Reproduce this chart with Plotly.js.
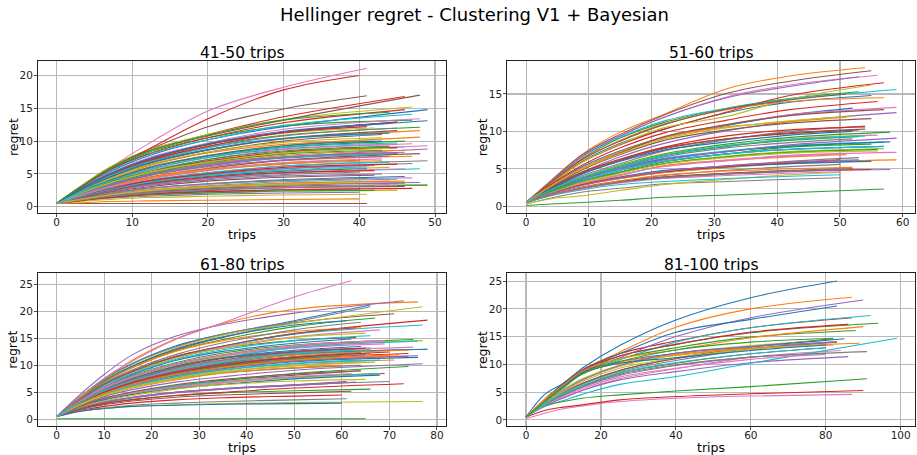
<!DOCTYPE html>
<html>
<head>
<meta charset="utf-8">
<script src="https://cdn.plot.ly/plotly-3.0.1.min.js"></script>
<style>html,body{margin:0;padding:0;background:#fff}</style>
</head>
<body>
<div id="chart" style="width:917px;height:455px"></div>
<script>
// Each row: [last trip, then the regret at each checkpoint, then the regret at the last trip].
// Rows follow the colour cycle: blue, orange, green, red, purple, brown, pink, gray, olive, cyan.
const panel1Checkpoints = [0, 3, 7, 12, 20, 30];
const panel1Rows = [
[49,.5,2.8,5.3,7.7,10.2,12.2,14.8],[48,.5,2.4,4.5,6.6,8.7,10.3,11.6],[47,.5,2.8,5.6,8.2,10.5,12.3,13.2],[46,.5,2.9,5.8,8.5,11.0,13.7,16.8],[45,.5,2.0,3.8,5.6,7.5,8.8,9.5],[41,.5,2.9,6.0,8.6,12.2,14.9,16.9],[41,.5,2.8,5.9,9.5,14.6,18.2,21.1],[44,.5,1.9,3.5,5.1,6.6,7.6,8.2],[47,.5,3.0,6.0,8.6,11.0,13.3,15.2],[47,.5,2.7,5.4,7.9,10.2,12.4,14.1],
[49,.5,2.6,5.0,7.3,9.5,11.3,13.1],[48,.5,2.2,4.1,6.0,7.8,9.3,10.6],[48,.5,2.5,4.8,6.9,9.2,10.9,12.1],[40,.5,2.8,5.8,8.7,13.4,17.8,20.0],[49,.5,1.8,3.2,4.7,6.2,7.5,8.8],[48,.5,2.9,5.8,8.4,10.8,13.2,17.0],[48,.5,2.6,5.1,7.4,9.7,11.8,13.4],[45,.5,2.4,4.7,6.8,9.0,10.8,12.0],[42,.5,2.4,4.9,7.1,9.5,11.2,12.0],[46,.5,1.9,3.5,5.2,6.9,8.3,9.1],
[45,.5,2.5,5.0,7.2,9.5,11.3,12.9],[42,.5,2.3,4.3,6.2,8.2,9.5,10.2],[46,.5,2.1,3.9,5.8,7.7,9.1,10.0],[46,.5,2.8,5.6,8.0,10.5,12.8,14.8],[45,.5,1.9,3.5,5.1,6.9,8.3,9.0],[45,.5,2.3,4.5,6.5,8.6,10.4,11.6],[47,.5,2.0,3.7,5.5,7.2,8.7,9.6],[45,.5,1.8,3.3,4.8,6.3,7.4,8.1],[44,.5,1.5,2.6,3.6,4.7,5.5,6.0],[48,.5,1.4,2.4,3.3,4.3,5.1,5.8],
[43,.5,2.2,4.0,5.9,7.8,9.3,10.0],[46,.5,1.8,3.3,4.9,6.5,7.8,8.6],[40,.5,1.7,2.9,4.2,5.6,6.6,7.1],[45,.5,2.5,4.9,7.0,9.2,11.3,12.9],[48,.5,1.1,1.8,2.4,2.9,3.4,3.7],[43,.5,2.3,4.4,6.3,8.3,10.0,11.0],[49,.5,1.9,3.5,5.1,6.7,8.1,9.3],[49,.5,1.6,2.8,3.9,5.1,6.2,7.0],[49,.5,1.0,1.6,2.1,2.6,3.0,3.3],[45,.5,1.2,1.9,2.5,3.2,3.8,4.2],
[41,.5,1.5,2.6,3.6,4.6,5.4,5.8],[47,.5,1.8,3.1,4.5,5.9,7.0,7.7],[49,.5,1.0,1.6,2.2,2.7,3.1,3.3],[41,.5,2.6,4.9,7.1,9.5,11.3,12.2],[40,.5,.9,1.3,1.6,1.9,2.1,2.2],[48,.5,1.7,3.0,4.4,5.8,7.1,8.1],[46,.5,1.4,2.4,3.4,4.4,5.2,5.8],[47,.5,1.6,2.7,3.8,4.9,5.8,6.6],[45,.5,.9,1.4,1.8,2.1,2.4,2.5],[44,.5,1.6,2.8,4.0,5.2,6.2,6.8],
[46,.5,1.2,2.0,2.8,3.5,4.1,4.6],[41,.5,1.7,3.1,4.4,5.7,6.7,7.2],[42,.5,.9,1.4,1.8,2.1,2.4,2.5],[45,.5,2.0,3.7,5.3,7.0,8.3,9.0],[42,.5,1.5,2.7,3.9,5.0,5.8,6.3],[46,.5,1.0,1.6,2.1,2.5,2.9,3.1],[47,.5,1.2,2.0,2.7,3.4,4.0,4.4],[40,.5,1.4,2.4,3.4,4.3,4.9,5.3],[41,.5,.8,1.1,1.4,1.6,1.8,1.9],[43,.5,1.8,3.4,4.8,6.4,7.5,8.0],
[40,.5,1.0,1.5,2.0,2.3,2.6,2.7],[43,.5,1.7,3.0,4.2,5.5,6.5,7.0],[44,.5,2.0,3.7,5.3,7.2,8.5,9.2],[45,.5,1.5,2.7,3.9,5.0,6.0,6.5],[44,.5,1.8,3.2,4.7,6.1,7.1,7.7],[41,.5,.5,.5,.5,.5,.5,.5],[44,.5,1.1,1.8,2.4,3.0,3.5,3.9],[41,.5,1.2,2.0,2.8,3.5,4.0,4.3],[43,.5,2.3,4.3,6.3,8.3,9.8,10.5],[42,.5,2.4,4.6,6.7,9.0,10.4,11.0],
[44,.5,2.4,4.5,6.6,8.7,10.4,11.2],[40,.5,.6,.8,.9,1.0,1.1,1.2],[43,.5,1.9,3.5,5.0,6.7,8.0,8.6],[47,.5,.9,1.4,1.9,2.3,2.6,2.8],[46,.5,1.8,3.3,4.8,6.4,7.6,8.3],[44,.5,1.0,1.6,2.2,2.7,3.1,3.3],[45,.5,1.0,1.6,2.1,2.6,3.0,3.3],[42,.5,1.0,1.6,2.1,2.6,2.9,3.2],[44,.5,2.0,3.6,5.2,6.8,8.2,8.9],[45,.5,2.1,3.9,5.6,7.5,9.0,9.7],
[44,.5,2.6,5.0,7.2,9.6,11.5,12.7],[46,.5,1.1,1.8,2.5,3.1,3.6,3.9],[44,.5,2.9,5.8,8.4,10.9,13.2,14.4],[42,.5,1.4,2.5,3.5,4.5,5.2,5.5],[43,.5,1.3,2.3,3.2,4.1,4.7,5.0],[42,.5,1.3,2.2,3.0,3.9,4.5,4.8],[43,.5,1.7,3.0,4.2,5.6,6.7,7.3],[46,.5,1.1,1.7,2.3,2.9,3.3,3.6],[40,.5,1.1,1.8,2.4,3.0,3.4,3.7],[41,.5,1.5,2.6,3.7,4.8,5.6,6.1]
];

const panel2Checkpoints = [0, 4, 9, 15, 22, 32, 42];
const panel2Rows = [
[55,.5,3.1,6.0,8.4,10.3,12.5,13.9,14.8],[54,.5,3.5,7.0,9.9,12.3,15.7,17.4,18.5],[53,.5,3.2,6.4,9.1,11.2,13.1,14.4,15.3],[57,.5,3.0,5.9,8.2,10.3,12.6,14.8,16.5],[59,.5,2.5,4.6,6.6,8.4,10.1,11.3,12.5],[55,.5,3.4,6.9,9.6,12.2,15.1,16.7,18.1],[56,.5,3.3,6.6,9.4,11.9,14.6,16.2,17.5],[54,.5,2.3,4.1,5.7,7.4,8.9,10.0,10.7],[55,.5,3.0,5.9,8.3,10.5,12.0,14.3,16.2],[59,.5,3.3,6.7,9.2,11.4,13.1,14.3,15.6],
[52,.5,2.8,5.3,7.4,9.2,10.8,12.2,13.1],[57,.5,3.1,6.2,8.8,11.0,12.9,14.0,14.5],[58,.5,2.2,3.9,5.5,7.0,8.3,9.2,9.9],[56,.5,2.9,5.5,7.8,9.8,11.5,12.9,14.0],[53,.5,3.3,6.7,9.4,11.9,14.5,16.0,17.3],[51,.5,3.2,6.3,8.7,10.9,13.0,14.2,15.0],[59,.5,2.7,5.1,7.2,9.2,10.9,12.2,13.2],[53,.5,1.8,3.0,3.9,4.7,5.4,6.0,6.5],[55,.5,2.2,3.9,5.4,6.9,8.1,9.0,9.5],[57,.5,2.0,3.6,5.1,6.4,7.4,8.1,8.6],
[58,.5,2.0,3.6,5.0,6.3,7.3,8.0,8.6],[51,.5,2.7,5.1,7.3,9.2,10.6,11.3,11.9],[57,.1,.3,.5,.8,1.2,1.5,1.8,2.3],[54,.5,2.5,4.6,6.3,7.9,9.4,10.2,10.6],[59,.5,2.0,3.6,5.0,6.2,7.3,8.2,9.1],[57,.5,2.6,4.9,7.1,9.3,10.9,12.1,12.9],[56,.5,2.2,3.9,5.3,6.8,8.0,8.9,9.5],[50,.5,1.6,2.6,3.4,4.1,4.8,5.3,5.6],[57,.5,1.9,3.2,4.5,5.7,6.7,7.3,7.7],[52,.5,1.7,2.9,3.7,4.5,5.2,5.7,6.0],
[57,.5,1.9,3.4,4.8,6.0,7.0,7.6,8.0],[59,.5,1.7,2.8,3.7,4.5,5.2,5.8,6.2],[55,.5,2.0,3.4,4.6,5.9,7.0,7.9,8.3],[53,.5,2.4,4.4,6.1,7.8,9.0,9.7,10.2],[58,.5,1.6,2.5,3.3,3.9,4.3,4.7,4.9],[55,.5,2.6,4.9,6.9,8.8,10.2,11.1,11.7],[59,.5,1.8,3.1,4.2,5.4,6.2,6.8,7.2],[50,.3,1.1,1.9,2.4,3.0,3.3,3.6,3.8],[50,.3,1.0,1.4,2.1,2.9,3.6,4.2,4.5],[57,.5,1.9,3.4,4.8,6.0,7.0,7.6,8.0],
[55,.5,1.7,2.9,3.9,4.8,5.3,5.7,6.0],[51,.5,1.8,3.0,4.1,5.4,6.1,6.6,6.9],[56,.5,1.9,3.3,4.5,5.7,6.6,7.2,7.6],[55,.5,1.5,2.4,3.3,3.9,4.4,4.7,4.9],[50,.5,1.5,2.4,3.2,3.8,4.3,4.6,4.8],[54,.5,2.4,4.5,6.2,7.7,9.0,9.8,10.3],[51,.5,1.8,3.1,4.2,5.3,6.1,6.7,7.0],[52,.5,2.2,3.8,5.2,6.6,7.8,8.5,9.0],[56,.5,1.8,3.2,4.4,5.6,6.5,7.1,7.4],[50,.5,1.4,2.2,2.9,3.3,3.7,4.0,4.2],
[52,.5,2.3,4.3,6.0,7.5,8.6,9.5,10.0],[52,.5,1.6,2.5,3.4,4.2,4.7,5.0,5.2],[53,.5,2.1,3.8,5.3,6.8,8.0,8.8,9.3],[50,.5,1.7,2.9,3.8,4.6,5.3,5.8,6.2],[53,.5,1.7,2.8,3.8,4.7,5.4,5.9,6.2],[52,.5,1.5,2.4,3.2,3.9,4.4,4.8,5.0],[50,.5,1.5,2.3,3.1,3.7,4.1,4.4,4.6],[50,.5,1.5,2.4,3.2,3.8,4.3,4.7,5.0],[52,.5,2.7,5.0,7.0,9.0,10.5,11.4,12.0],[54,.5,2.2,3.9,5.3,6.8,8.1,8.9,9.4]
];

const panel3Checkpoints = [0, 5, 10, 16, 25, 35, 50];
const panel3Rows = [
[66,.5,4.2,7.5,10.4,13.6,15.8,18.3,21.2],[76,.5,4.2,7.4,11.0,14.9,17.8,20.4,21.8],[67,.5,3.9,6.9,9.6,12.7,14.8,17.2,18.8],[78,.5,3.7,6.5,9.0,11.7,13.6,15.9,18.4],[73,.5,4.6,8.3,12.0,15.4,17.6,19.7,22.0],[71,.5,4.0,7.2,9.9,12.9,15.2,17.9,19.6],[62,.5,4.1,7.6,10.8,14.8,17.9,22.7,25.7],[66,.5,4.1,7.4,10.3,13.4,15.8,18.1,20.9],[77,.5,4.0,7.2,10.0,13.2,15.6,17.8,20.9],[77,.5,3.7,6.4,8.9,11.5,13.5,15.8,17.5],
[61,.5,3.9,7.1,9.9,13.0,15.3,17.5,18.3],[64,.5,3.9,6.9,9.6,12.6,14.6,16.3,17.0],[75,.5,3.4,5.8,8.1,10.5,12.3,13.8,14.8],[74,.5,3.1,5.2,7.0,8.8,10.2,11.3,12.2],[66,.5,3.4,5.7,7.7,9.9,11.4,12.6,13.2],[63,.5,3.7,6.4,8.8,11.4,13.2,14.6,15.2],[68,.5,3.7,6.5,8.9,11.4,13.4,15.3,16.6],[64,.5,3.8,6.7,9.2,12.0,14.2,16.6,18.0],[65,.5,3.5,6.2,8.6,11.4,13.2,15.2,16.0],[66,.5,3.6,6.3,8.5,11.1,12.9,14.6,15.5],
[62,.5,3.5,6.0,8.3,10.9,12.6,14.1,14.9],[72,.5,3.1,5.3,7.3,9.2,10.5,12.0,12.9],[66,.5,3.1,5.2,7.0,9.0,10.3,11.6,12.3],[74,.5,3.0,5.1,6.8,8.4,9.8,10.9,11.7],[76,.5,3.1,5.2,7.0,8.6,10.0,11.1,11.8],[64,.5,2.4,3.8,4.9,6.1,7.2,8.2,9.0],[69,.5,3.3,5.6,7.7,10.0,11.7,13.2,14.0],[64,.5,2.7,4.5,6.0,7.5,8.6,9.5,10.0],[77,.5,3.3,5.7,7.8,10.1,11.7,13.5,14.6],[78,.5,3.1,5.2,7.0,9.0,10.5,12.1,13.0],
[78,.5,3.0,5.0,6.9,8.9,10.4,12.0,13.0],[74,.5,3.1,5.2,7.1,9.1,10.6,11.9,12.8],[74,.5,2.5,3.9,5.0,6.2,7.2,8.5,9.8],[69,.5,2.4,3.8,4.8,5.9,6.8,7.8,8.5],[77,.5,2.6,4.2,5.5,6.9,7.9,9.1,10.3],[61,.5,2.0,3.1,4.0,5.0,5.7,6.4,7.0],[75,.5,3.2,5.4,7.3,9.3,10.8,12.4,13.4],[70,.5,2.1,3.2,4.1,5.0,5.7,6.4,7.0],[68,.5,2.3,3.6,4.7,5.9,6.8,7.7,8.4],[68,.5,2.4,3.9,5.0,6.2,7.0,7.9,8.5],
[76,.5,2.9,4.8,6.4,8.1,9.4,10.7,11.5],[71,.5,2.8,4.6,6.2,7.9,9.2,10.3,11.0],[66,.5,1.8,2.9,3.7,4.4,4.9,5.3,5.6],[60,.5,1.6,2.4,3.0,3.6,4.0,4.3,4.5],[60,.5,2.0,3.1,4.0,4.9,5.6,6.3,6.8],[63,.5,3.7,6.5,8.9,11.6,13.6,15.9,17.0],[62,.5,2.4,3.8,4.9,6.0,6.9,7.9,8.5],[61,.5,1.5,2.1,2.6,3.0,3.3,3.6,3.8],[77,.5,1.5,2.0,2.4,2.7,2.9,3.1,3.3],[76,.5,3.3,5.6,7.6,9.8,11.4,13.3,14.5],
[68,.5,2.3,3.6,4.6,5.7,6.5,7.5,8.2],[72,.5,3.0,5.0,6.6,8.4,9.6,11.0,12.0],[65,.1,.1,.1,.1,.1,.1,.1,.1],[73,.5,2.0,2.9,3.6,4.4,5.0,5.8,6.6],[66,.5,3.0,4.9,6.5,8.2,9.5,10.8,11.5],[62,.5,1.8,2.7,3.4,4.1,4.5,4.9,5.2],[65,.5,2.8,4.5,6.0,7.6,8.8,10.0,10.6],[65,.5,3.0,5.0,6.8,8.6,10.0,11.4,12.0],[65,.5,2.3,3.4,4.4,5.6,6.4,7.1,7.4],[64,.5,2.9,4.7,6.2,7.9,9.2,10.4,11.0],
[60,.5,1.5,2.0,2.4,2.6,2.8,2.9,3.0],[60,.5,2.7,4.4,5.8,7.3,8.6,9.6,10.0],[60,.5,3.0,5.0,6.7,8.5,9.8,11.2,11.8],[65,.5,3.2,5.4,7.3,9.5,11.0,12.5,13.2],[62,.5,3.0,5.1,6.9,8.8,10.2,11.6,12.2],[64,.5,2.4,3.9,5.1,6.4,7.4,8.4,9.0],[69,.5,3.5,5.9,8.0,10.3,12.0,13.7,14.6],[64,.5,3.0,5.0,6.7,8.6,10.1,11.6,12.4],[62,.5,2.7,4.5,5.9,7.5,8.8,10.0,10.5],[68,.5,2.9,4.6,6.2,7.8,9.1,10.3,11.0],
[64,.5,3.2,5.5,7.5,9.8,11.4,12.8,13.5],[70,.5,2.9,4.8,6.5,8.3,9.6,11.0,11.8],[64,.5,3.4,5.7,7.8,10.2,11.9,13.5,14.3],[70,.5,3.0,5.0,6.8,8.7,10.1,11.5,12.5],[63,.5,2.1,3.2,4.1,5.0,5.6,6.3,6.9],[63,.5,3.3,5.5,7.5,9.7,11.3,12.5,13.1],[68,.5,3.4,5.7,7.8,10.2,11.9,13.5,14.4],[62,.5,3.2,5.4,7.4,9.5,11.0,12.3,12.8],[67,.5,2.8,4.5,6.0,7.6,8.9,9.9,10.6],[66,.5,3.1,5.3,7.2,9.2,10.7,12.2,12.9]
];

const panel4Checkpoints = [0, 5, 10, 15, 25, 40, 60];
const panel4Rows = [
[83,.5,4.6,6.6,9.3,13.4,18.0,22.0,25.0],[87,.5,3.8,6.5,9.0,12.2,16.7,20.0,22.1],[94,.5,3.2,5.8,8.4,11.5,13.6,15.7,17.4],[87,.5,3.5,6.4,8.8,11.9,14.2,16.6,18.4],[90,.5,3.4,6.2,8.7,11.2,15.0,18.4,21.6],[82,.5,3.0,5.0,6.6,8.9,11.1,13.1,14.6],[84,.5,2.6,3.9,5.3,7.4,9.2,11.3,12.5],[91,.5,2.8,4.4,5.9,8.0,9.8,11.3,12.3],[80,.5,3.2,5.5,7.4,9.9,12.0,13.4,14.3],[92,.5,3.3,5.8,8.3,10.8,14.0,16.6,18.8],
[83,.5,3.6,6.6,9.0,11.9,15.8,18.1,20.5],[89,.5,3.5,6.2,8.7,10.2,11.6,12.9,13.8],[88,.5,3.4,6.0,8.5,11.0,13.0,14.9,16.1],[86,.5,3.5,6.4,8.9,11.5,13.6,15.8,17.2],[86,.5,2.6,4.0,5.3,7.2,8.7,10.3,11.4],[83,.5,3.0,4.9,6.5,8.9,11.0,12.8,14.0],[87,.2,1.2,2.0,2.5,3.3,3.9,4.3,4.6],[83,.5,3.0,4.9,6.4,8.7,10.7,12.7,14.1],[80,.5,3.1,5.3,7.2,9.6,11.7,12.9,13.5],[99,.5,2.4,3.5,4.6,6.4,7.8,10.2,14.7],
[85,.5,3.5,6.3,8.6,10.5,12.0,13.2,14.6],[82,.5,3.4,6.0,8.4,10.4,11.8,12.9,13.5],[91,.5,2.6,3.3,3.9,4.5,5.2,6.0,7.4],[90,.5,1.7,2.3,2.7,3.6,4.2,4.7,5.3],[82,.5,3.1,5.3,7.2,9.8,12.0,13.2,14.0],[80,.5,2.9,4.6,6.1,8.4,10.2,11.9,13.0],[80,.5,2.7,4.2,5.6,7.7,9.3,10.9,11.8],[80,.5,2.8,4.5,6.0,8.2,9.9,11.3,12.0],[78,.5,3.0,5.1,6.9,9.3,11.2,12.7,13.5],[80,.5,2.9,4.7,6.2,8.5,10.3,11.9,13.0],
[80,.5,3.4,6.0,8.4,10.2,11.2,12.5,13.5],[90,.5,3.6,6.3,8.8,11.0,12.6,14.8,16.8],[82,.5,3.3,5.9,8.2,10.5,12.6,14.0,14.7]
];

const colorCycle = ['#1f77b4','#ff7f0e','#2ca02c','#d62728','#9467bd','#8c564b','#e377c2','#7f7f7f','#bcbd22','#17becf'];
const panelTitles = ['41-50 trips', '51-60 trips', '61-80 trips', '81-100 trips'];
const ticksX = [[0,10,20,30,40,50],[0,10,20,30,40,50,60],[0,10,20,30,40,50,60,70,80],[0,20,40,60,80,100]];
const ticksY = [[0,5,10,15,20],[0,5,10,15],[0,5,10,15,20,25],[0,5,10,15,20,25]];
const rangesX = [[-2.45,51.45],[-3,62],[-3.9,81.9],[-5,103.9]];
const rangesY = [[-0.95,22.2],[-0.9,19.4],[-1.25,27.1],[-1.1,26.4]];
const W = 917, H = 455;
const boxes = [[38,446,61,213],[507.3,915.3,61,213],[38,446,273.3,426],[507.3,915.3,273.3,426]];

const panels = [
  [panel1Checkpoints, panel1Rows],
  [panel2Checkpoints, panel2Rows],
  [panel3Checkpoints, panel3Rows],
  [panel4Checkpoints, panel4Rows]
];

const traces = [];
panels.forEach(function (p, k) {
  const suffix = k === 0 ? '' : String(k + 1);
  p[1].forEach(function (row, i) {
    traces.push({
      x: p[0].concat([row[0]]),
      y: row.slice(1),
      xaxis: 'x' + suffix,
      yaxis: 'y' + suffix,
      type: 'scatter',
      mode: 'lines',
      line: {color: colorCycle[i % 10], width: 1.1, shape: 'spline', smoothing: 1},
      hoverinfo: 'skip',
      showlegend: false
    });
  });
});

const font = 'DejaVu Sans, sans-serif';
const layout = {
  width: W, height: H,
  margin: {l: 0, r: 0, t: 0, b: 0},
  paper_bgcolor: '#fff', plot_bgcolor: '#fff',
  font: {family: font, color: '#000', size: 11},
  showlegend: false,
  title: {text: 'Hellinger regret - Clustering V1 + Bayesian', x: 474.5 / W, xanchor: 'center',
          y: 1 - 15 / H, yanchor: 'middle', font: {family: font, size: 18, color: '#000'}},
  annotations: []
};

boxes.forEach(function (b, k) {
  const s = k === 0 ? '' : String(k + 1);
  const common = {
    showgrid: true, gridcolor: '#b8b8b8', gridwidth: 1.1, zeroline: false,
    showline: true, mirror: true, linecolor: '#222', linewidth: 1,
    ticks: 'outside', ticklen: 3, tickwidth: 0.8, tickcolor: '#222',
    tickfont: {family: font, size: 10.5, color: '#222'}, automargin: false
  };
  layout['xaxis' + s] = Object.assign({}, common, {
    domain: [b[0] / W, b[1] / W], range: rangesX[k], tickmode: 'array',
    tickvals: ticksX[k], anchor: 'y' + s, ticklabelstandoff: -4
  });
  layout['yaxis' + s] = Object.assign({}, common, {
    domain: [1 - b[3] / H, 1 - b[2] / H], range: rangesY[k], tickmode: 'array',
    tickvals: ticksY[k], anchor: 'x' + s, ticklabelstandoff: -1
  });
  layout.annotations.push({
    text: panelTitles[k], xref: 'paper', yref: 'paper',
    x: (b[0] + b[1]) / 2 / W, y: 1 - b[2] / H, xanchor: 'center', yanchor: 'bottom',
    yshift: -3, showarrow: false, font: {family: font, size: 15.5, color: '#000'}
  });
  layout.annotations.push({
    text: 'trips', xref: 'paper', yref: 'paper',
    x: (b[0] + b[1]) / 2 / W, y: 1 - (b[3] + 21.5) / H, xanchor: 'center', yanchor: 'middle',
    showarrow: false, font: {family: font, size: 12.5, color: '#000'}
  });
  layout.annotations.push({
    text: 'regret', xref: 'paper', yref: 'paper', textangle: -90,
    x: (b[0] - 25) / W, y: 1 - (b[2] + b[3]) / 2 / H, xanchor: 'center', yanchor: 'middle',
    showarrow: false, font: {family: font, size: 12.5, color: '#000'}
  });
});

Plotly.newPlot('chart', traces, layout, {displayModeBar: false, staticPlot: true});
</script>
</body>
</html>
